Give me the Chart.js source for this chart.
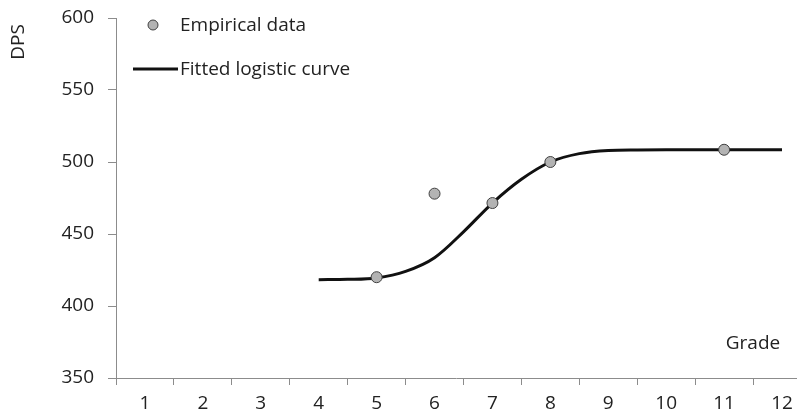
<!DOCTYPE html>
<html>
<head>
<meta charset="utf-8">
<script src="https://cdn.jsdelivr.net/npm/chart.js@4/dist/chart.umd.min.js"></script>
<style>
  html, body { margin: 0; padding: 0; background: #fff; }
  #wrap { width: 803px; height: 420px; }
</style>
</head>
<body>
<div id="wrap"><canvas id="myChart" width="803" height="420"></canvas></div>
<script>
// values
const grades = [1, 2, 3, 4, 5, 6, 7, 8, 9, 10, 11, 12];
const empiricalGrades = [5, 6, 7, 8, 11];
const empiricalDps = [420, 478, 471.5, 500, 508.5];
const curveGrades = [4, 4.5, 5, 5.5, 6, 6.5, 7, 7.5, 8, 8.5, 9, 9.5, 10, 11, 12];
const curveDps = [418.3, 418.5, 419.5, 424, 433.5, 451.5, 471.5, 488, 500, 505.8, 508, 508.4, 508.5, 508.5, 508.5];
const yTicks = [350, 400, 450, 500, 550, 600];

const FONT = '"Open Sans", sans-serif';
const TEXT = '#222';
const AXIS = '#8c8c8c';

// legend, axis titles drawn as plain text inside the chart
const labelsPlugin = {
  id: 'labels',
  afterDraw(chart) {
    const ctx = chart.ctx;
    ctx.save();
    ctx.font = '19px ' + FONT;
    ctx.fillStyle = TEXT;
    ctx.textBaseline = 'middle';
    ctx.textAlign = 'left';

    // legend
    ctx.beginPath();
    ctx.arc(153, 25, 5, 0, Math.PI * 2);
    ctx.fillStyle = '#b3b3b3';
    ctx.fill();
    ctx.lineWidth = 1;
    ctx.strokeStyle = '#404040';
    ctx.stroke();
    ctx.fillStyle = TEXT;
    ctx.fillText('Empirical data', 180, 26);

    ctx.beginPath();
    ctx.moveTo(133, 69);
    ctx.lineTo(178, 69);
    ctx.lineWidth = 3;
    ctx.strokeStyle = '#111';
    ctx.stroke();
    ctx.fillText('Fitted logistic curve', 180, 70);

    // axis titles
    ctx.textAlign = 'center';
    ctx.fillText('Grade', 753, 344);
    ctx.translate(19, 42);
    ctx.rotate(-Math.PI / 2);
    ctx.fillText('DPS', 0, 0);
    ctx.restore();
  }
};

const ctx = document.getElementById('myChart');
new Chart(ctx, {
  type: 'scatter',
  data: {
    datasets: [{
      label: 'Empirical data',
      data: empiricalGrades.map((g, i) => ({ x: g, y: empiricalDps[i] })),
      pointRadius: 5.5,
      pointBackgroundColor: '#b3b3b3',
      pointBorderColor: '#404040',
      pointBorderWidth: 1
    }, {
      label: 'Fitted logistic curve',
      type: 'line',
      data: curveGrades.map((g, i) => ({ x: g, y: curveDps[i] })),
      borderColor: '#111',
      borderWidth: 3,
      pointRadius: 0,
      cubicInterpolationMode: 'monotone',
      fill: false
    }]
  },
  options: {
    responsive: false,
    animation: false,
    layout: { padding: { top: 18, right: 0, left: 0, bottom: 0 } },
    plugins: { legend: { display: false }, tooltip: { enabled: false } },
    scales: {
      x: {
        type: 'linear',
        min: 0.5,
        max: 12.25, // axis runs off the right edge in the original
        offset: false,
        afterFit(scale) {
          scale.height = 42;
          scale.paddingLeft = 0;
          scale.paddingRight = 0;
        },
        afterBuildTicks(scale) { scale.ticks = grades.map(v => ({ value: v })); },
        border: { display: true, color: AXIS, width: 1 },
        grid: { offset: true, drawOnChartArea: false, drawTicks: true, tickLength: 7, color: AXIS },
        ticks: {
          autoSkip: false,
          includeBounds: false,
          maxRotation: 0,
          padding: 7,
          color: TEXT,
          font: { family: FONT, size: 19 },
          callback: v => String(v)
        }
      },
      y: {
        min: 350,
        max: 600,
        afterFit(scale) {
          scale.width = 116;
          scale.paddingTop = 0;
          scale.paddingBottom = 0;
        },
        afterBuildTicks(scale) { scale.ticks = yTicks.map(v => ({ value: v })); },
        border: { display: true, color: AXIS, width: 1 },
        grid: { drawOnChartArea: false, drawTicks: true, tickLength: 8, color: AXIS },
        ticks: {
          padding: 14,
          color: TEXT,
          font: { family: FONT, size: 19 }
        }
      }
    }
  },
  plugins: [labelsPlugin]
});
</script>
</body>
</html>
